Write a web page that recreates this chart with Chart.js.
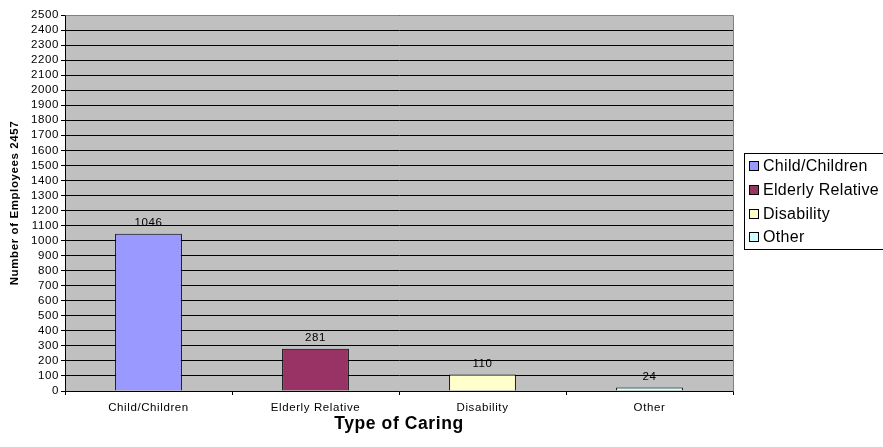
<!DOCTYPE html>
<html>
<head>
<meta charset="utf-8">
<script src="https://cdn.jsdelivr.net/npm/chart.js@4/dist/chart.umd.min.js"></script>
<style>
  html, body { margin: 0; padding: 0; background: #fff; }
  #wrap { width: 883px; height: 447px; overflow: hidden; }
</style>
</head>
<body>
<div id="wrap"><canvas id="c" width="883" height="447"></canvas></div>
<script>
// Types of caring responsibility and number of employees in each
const categories = ['Child/Children', 'Elderly Relative', 'Disability', 'Other'];
const employees = [1046, 281, 110, 24];
const barColors = ['#9999FF', '#993366', '#FFFFCC', '#CCFFFF'];
const yTitle = 'Number of Employees 2457';
const xTitle = 'Type of Caring';

const FONT = '"Liberation Sans", Arial, sans-serif';
const SPACING = '0.6px';

// Grey plot background, slightly wider text, thin frame on top/right
const plotFrame = {
  id: 'plotFrame',
  beforeDraw(chart) {
    const { ctx, chartArea: a } = chart;
    ctx.fillStyle = '#C0C0C0';
    ctx.fillRect(a.left, a.top, a.right - a.left, a.bottom - a.top);
    ctx.letterSpacing = SPACING;
  },
  afterDraw(chart) {
    const { ctx, chartArea: a } = chart;
    ctx.save();
    ctx.strokeStyle = '#808080';
    ctx.lineWidth = 1;
    ctx.beginPath();
    ctx.moveTo(Math.round(a.left) + 0.5, Math.round(a.top) + 0.5);
    ctx.lineTo(Math.round(a.right) + 0.5, Math.round(a.top) + 0.5);
    ctx.lineTo(Math.round(a.right) + 0.5, Math.round(a.bottom) + 0.5);
    ctx.stroke();
    ctx.restore();
  }
};

// Value printed above each bar
const valueLabels = {
  id: 'valueLabels',
  afterDatasetsDraw(chart) {
    const { ctx } = chart;
    const meta = chart.getDatasetMeta(0);
    const values = chart.data.datasets[0].data;
    ctx.save();
    ctx.letterSpacing = SPACING;
    ctx.font = '11.5px ' + FONT;
    ctx.fillStyle = '#000';
    ctx.textAlign = 'center';
    ctx.textBaseline = 'bottom';
    meta.data.forEach((bar, i) => {
      ctx.fillText(String(values[i]), bar.x, bar.y - 5);
    });
    ctx.restore();
  }
};

// Boxed legend listing each category with its colour
const boxLegend = {
  id: 'boxLegend',
  afterDraw(chart) {
    const { ctx } = chart;
    const labels = chart.data.labels;
    const colors = chart.data.datasets[0].backgroundColor;
    const left = 744.5, top = 153.5, rowH = 23.8, bottom = 249.5;
    ctx.save();
    ctx.letterSpacing = '0.3px';
    ctx.fillStyle = '#fff';
    ctx.fillRect(left, top, 200, bottom - top);
    ctx.strokeStyle = '#000';
    ctx.lineWidth = 1;
    ctx.strokeRect(left, top, 200, bottom - top);
    ctx.font = '16px ' + FONT;
    ctx.textBaseline = 'middle';
    ctx.textAlign = 'left';
    labels.forEach((lab, i) => {
      const cy = 166 + i * rowH;
      const sy = Math.round(cy - 5) + 0.5;
      ctx.fillStyle = colors[i];
      ctx.fillRect(749.5, sy, 9, 9);
      ctx.strokeStyle = '#000';
      ctx.strokeRect(749.5, sy, 9, 9);
      ctx.fillStyle = '#000';
      ctx.fillText(lab, 763, cy + 0.5);
    });
    ctx.restore();
  }
};

new Chart(document.getElementById('c'), {
  type: 'bar',
  data: {
    labels: categories,
    datasets: [{
      data: employees,
      backgroundColor: barColors,
      borderColor: '#000',
      borderWidth: 1,
      borderSkipped: 'bottom',
      barPercentage: 0.4,
      categoryPercentage: 1.0
    }]
  },
  options: {
    responsive: false,
    animation: false,
    devicePixelRatio: 1,
    layout: { padding: { top: 15, right: 150, bottom: 0, left: 0 } },
    plugins: {
      legend: { display: false },
      tooltip: { enabled: false }
    },
    scales: {
      x: {
        offset: true,
        grid: {
          offset: true,
          drawOnChartArea: false,
          color: '#000',
          tickLength: 4
        },
        border: { color: '#000', width: 1 },
        ticks: { color: '#000', font: { family: FONT, size: 11.5 }, padding: 6, maxRotation: 0, autoSkip: false },
        title: {
          display: true,
          text: xTitle,
          color: '#000',
          font: { family: FONT, size: 17.5, weight: 'bold' },
          padding: { top: 0, bottom: 12 }
        },
        afterFit(s) { s.height = 56; }
      },
      y: {
        min: 0,
        max: 2500,
        ticks: {
          stepSize: 100,
          autoSkip: false,
          color: '#000',
          font: { family: FONT, size: 11.5 },
          padding: 2,
          callback: (v) => String(v)
        },
        grid: { color: '#000', lineWidth: 1, tickLength: 4 },
        border: { color: '#000', width: 1 },
        title: {
          display: true,
          text: yTitle,
          color: '#000',
          font: { family: FONT, size: 11.5, weight: 'bold' },
          padding: { top: 8, bottom: 0 }
        },
        afterFit(s) { s.width = 65; }
      }
    }
  },
  plugins: [plotFrame, valueLabels, boxLegend]
});
</script>
</body>
</html>
